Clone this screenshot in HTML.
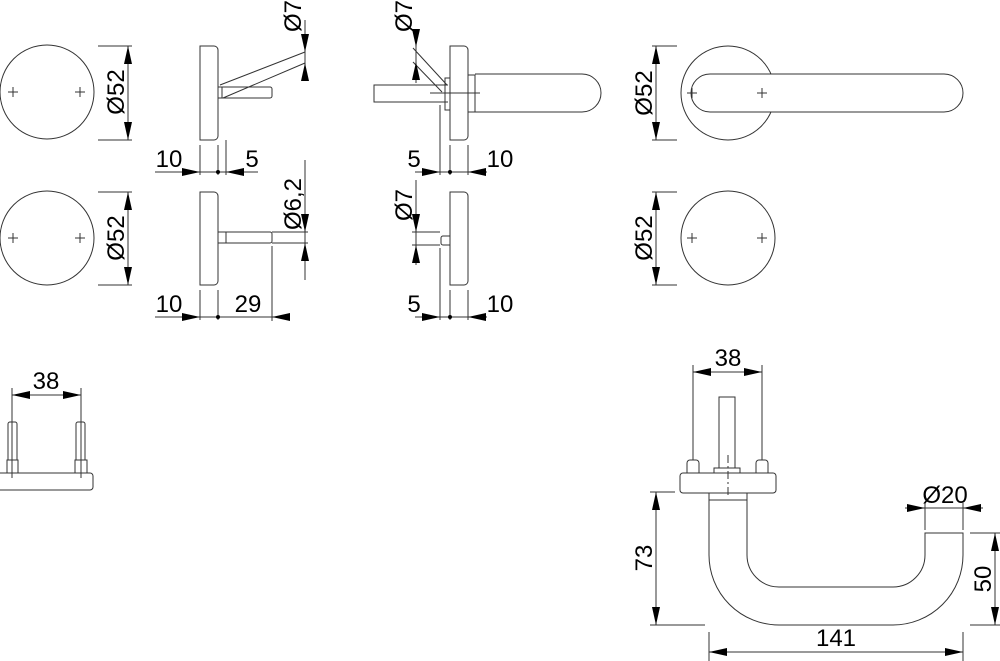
<!DOCTYPE html>
<html><head><style>html,body{margin:0;padding:0;background:#fff}svg{display:block}</style></head>
<body>
<svg width="1000" height="661" viewBox="0 0 1000 661" xmlns="http://www.w3.org/2000/svg" font-family="Liberation Sans, sans-serif" font-size="24" fill="none" stroke="#000" stroke-width="1">
<defs>
<path id="ad" d="M0,0 L-4,-18 L4,-18 Z" fill="#000" stroke="none"/>
</defs>
<g stroke="#333">
<circle cx="47" cy="92" r="47"/>
<path d="M8,92h10M13,87v10M75,92h10M80,87v10"/>
<path d="M98,46h34M98,140h34M128,46v94"/>
<circle cx="47" cy="238" r="47"/>
<path d="M8,238h10M13,233v10M75,238h10M80,233v10"/>
<path d="M98,192h34M98,285h34M128,192v93"/>

<path d="M200,46h14a4,4 0 0 1 4,4v86a4,4 0 0 1 -4,4h-14z"/>
<path d="M218,87h52a2,2 0 0 1 2,2v7a2,2 0 0 1 -2,2h-52"/>
<path d="M222,87v11"/>
<path d="M220,85L305,52M223,98L305,63"/>
<path d="M226,140v35M200,145v30M218,145v30M155,172h103"/>
<path d="M305,20v60"/>
<path d="M200,192h14a4,4 0 0 1 4,4v85a4,4 0 0 1 -4,4h-14z"/>
<path d="M218,232h52a2,2 0 0 1 2,2v7a2,2 0 0 1 -2,2h-52M226,232v11"/>
<path d="M272,232h36M272,243h36M305,160v120M272,246v75"/>
<path d="M200,290v30M218,290v30M155,317h135"/>

<path d="M450,46h14a4,4 0 0 1 4,4v86a4,4 0 0 1 -4,4h-14z"/>
<path d="M468,75h7v37h-7M475,74h107a19,19 0 0 1 0,38h-107"/>
<path d="M448,85h-74v17h74M445,78h5v32h-5z"/>
<path d="M413,48L447,85M413,62L442,92"/>
<path d="M440,105v70M450,145v30M468,145v30M415,172h72M416,33v50M430,93h50" />
<path d="M450,192h14a4,4 0 0 1 4,4v85a4,4 0 0 1 -4,4h-14z"/>
<path d="M450,236h-7a2,2 0 0 0 -2,2v5a2,2 0 0 0 2,2h7"/>
<path d="M412,232h28M412,245h28M416,180v85M440,248v72M450,290v30M468,290v30M415,317h72"/>

<circle cx="728" cy="93" r="47"/>
<path d="M710,112h234a19,19 0 0 0 0,-38h-234a19,19 0 0 0 0,38z" fill="#fff"/>
<path d="M687,93h10M692,88v10M757,93h10M762,88v10"/>
<path d="M652,46h25M652,140h25M656,46v94"/>
<circle cx="728" cy="238" r="47"/>
<path d="M687,238h10M692,233v10M757,238h10M762,233v10"/>
<path d="M652,192h25M652,285h25M656,192v93"/>

<path d="M0,473h90a3,3 0 0 1 3,3v11a3,3 0 0 1 -3,3h-90"/>
<path d="M7,473v-13h11v13M8,460v-36a2,2 0 0 1 2,-2h5a2,2 0 0 1 2,2v36"/>
<path d="M75,473v-13h12v13M76,460v-36a2,2 0 0 1 2,-2h5a2,2 0 0 1 2,2v36"/>
<path d="M12,388v90M81,388v90M12,395h69"/>

<path d="M693,365v95M762,365v95M693,372h69"/>
<path d="M719,468v-71h16v71"/>
<path d="M714,473v-5h26v5M687,473v-10a3,3 0 0 1 3,-3h6a3,3 0 0 1 3,3v10M756,473v-10a3,3 0 0 1 3,-3h6a3,3 0 0 1 3,3v10"/>
<path d="M683,473h90a3,3 0 0 1 3,3v14a3,3 0 0 1 -3,3h-90a3,3 0 0 1 -3,-3v-14a3,3 0 0 1 3,-3z"/>
<path d="M709,493v7h38v-7"/>
<path d="M709,500L709,555A70,70 0 0 0 779,625L893,625A70,70 0 0 0 963,555L963,533L925,533L925,555A32,32 0 0 1 893,587L779,587A32,32 0 0 1 747,555L747,500"/>
<path d="M728,455v40" stroke-dasharray="8,3,2,3"/>
<path d="M650,492h25M650,625h55M656,492v133"/>
<path d="M970,533h30M970,625h30M995,533v92"/>
<path d="M709,632v29M963,632v29M709,652h254"/>
<path d="M925,503v27M963,503v27M905,508h78"/>
</g>
<g>
<use href="#ad" transform="translate(128,46) rotate(180)"/><use href="#ad" transform="translate(128,140)"/>
<use href="#ad" transform="translate(128,192) rotate(180)"/><use href="#ad" transform="translate(128,285)"/>
<use href="#ad" transform="translate(305,52)"/><use href="#ad" transform="translate(305,63) rotate(180)"/>
<use href="#ad" transform="translate(200,172) rotate(-90)"/><use href="#ad" transform="translate(226,172) rotate(90)"/>
<use href="#ad" transform="translate(305,232)"/><use href="#ad" transform="translate(305,243) rotate(180)"/>
<use href="#ad" transform="translate(200,317) rotate(-90)"/><use href="#ad" transform="translate(272,317) rotate(90)"/>
<use href="#ad" transform="translate(416,47)"/><use href="#ad" transform="translate(416,62) rotate(180)"/>
<use href="#ad" transform="translate(440,172) rotate(-90)"/><use href="#ad" transform="translate(468,172) rotate(90)"/>
<use href="#ad" transform="translate(416,232)"/><use href="#ad" transform="translate(416,245) rotate(180)"/>
<use href="#ad" transform="translate(440,317) rotate(-90)"/><use href="#ad" transform="translate(468,317) rotate(90)"/>
<use href="#ad" transform="translate(656,46) rotate(180)"/><use href="#ad" transform="translate(656,140)"/>
<use href="#ad" transform="translate(656,192) rotate(180)"/><use href="#ad" transform="translate(656,285)"/>
<use href="#ad" transform="translate(12,395) rotate(90)"/><use href="#ad" transform="translate(81,395) rotate(-90)"/>
<use href="#ad" transform="translate(693,372) rotate(90)"/><use href="#ad" transform="translate(762,372) rotate(-90)"/>
<use href="#ad" transform="translate(656,492) rotate(180)"/><use href="#ad" transform="translate(656,625)"/>
<use href="#ad" transform="translate(995,533) rotate(180)"/><use href="#ad" transform="translate(995,625)"/>
<use href="#ad" transform="translate(709,652) rotate(90)"/><use href="#ad" transform="translate(963,652) rotate(-90)"/>
<use href="#ad" transform="translate(925,508) rotate(-90)"/><use href="#ad" transform="translate(963,508) rotate(90)"/>
<circle cx="218" cy="172" r="2" fill="#000" stroke="none"/><circle cx="218" cy="317" r="2" fill="#000" stroke="none"/>
<circle cx="450" cy="172" r="2" fill="#000" stroke="none"/><circle cx="450" cy="317" r="2" fill="#000" stroke="none"/>
</g>
<g fill="#000" stroke="none" text-anchor="middle">
<text transform="translate(124,92) rotate(-90)">Ø52</text>
<text transform="translate(124,238) rotate(-90)">Ø52</text>
<text transform="translate(652,93) rotate(-90)">Ø52</text>
<text transform="translate(652,238) rotate(-90)">Ø52</text>
<text transform="translate(301,16) rotate(-90)">Ø7</text>
<text transform="translate(301,204) rotate(-90)">Ø6,2</text>
<text transform="translate(412,16) rotate(-90)">Ø7</text>
<text transform="translate(412,205) rotate(-90)">Ø7</text>
<text x="169" y="167">10</text><text x="252" y="167">5</text>
<text x="169" y="312">10</text><text x="248" y="312">29</text>
<text x="414" y="167">5</text><text x="500" y="167">10</text>
<text x="414" y="312">5</text><text x="500" y="312">10</text>
<text x="46" y="389">38</text>
<text x="728" y="366">38</text>
<text x="945" y="503">Ø20</text>
<text transform="translate(652,558) rotate(-90)">73</text>
<text transform="translate(991,579) rotate(-90)">50</text>
<text x="836" y="646">141</text>
</g>
</svg>
</body></html>
